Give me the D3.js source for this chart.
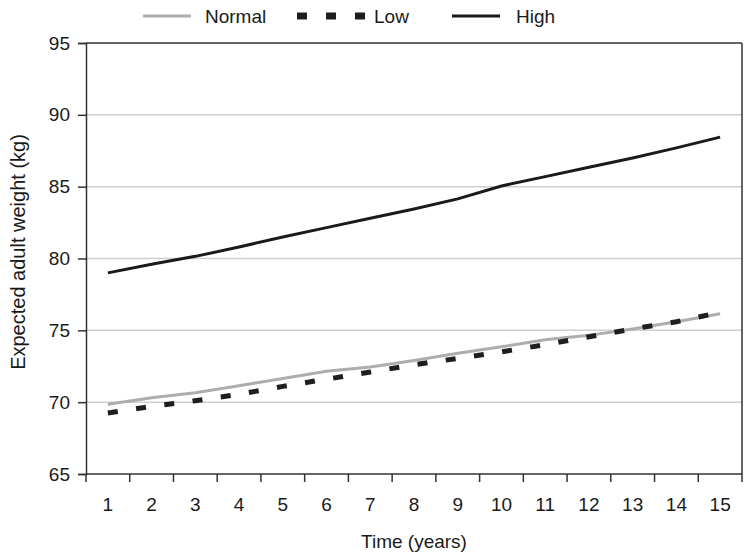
<!DOCTYPE html>
<html><head><meta charset="utf-8">
<script src="https://cdn.jsdelivr.net/npm/d3@7"></script>
<style>
body{margin:0;background:#fff;}
text{font-family:"Liberation Sans",Arial,sans-serif;fill:#1a1a1a;}
</style></head>
<body>
<svg id="chart" width="752" height="560"></svg>
<script>
const years = [1,2,3,4,5,6,7,8,9,10,11,12,13,14,15];
const normalValues = [69.85,70.3,70.65,71.15,71.65,72.15,72.45,72.9,73.4,73.85,74.35,74.65,75.1,75.6,76.15];
const lowValues = [69.25,69.7,70.1,70.55,71.1,71.6,72.1,72.6,73.05,73.5,74.0,74.55,75.1,75.6,76.25];
const highValues = [79.0,79.6,80.15,80.8,81.5,82.15,82.8,83.45,84.15,85.05,85.7,86.35,87.0,87.7,88.45];
const yTicks = [65,70,75,80,85,90,95];
const gridValues = [70,75,80,85,90];
const seriesNames = ["Normal","Low","High"];

const svg = d3.select("#chart");
const L = 86, R = 742, T = 43, B = 474;

const x = d3.scaleBand().domain(years).range([L, R]).padding(0);
const y = d3.scaleLinear().domain([65, 95]).range([B, T]);

// gridlines
svg.append("g").selectAll("line").data(gridValues).join("line")
  .attr("x1", L).attr("x2", R)
  .attr("y1", d => y(d)).attr("y2", d => y(d))
  .attr("stroke", "#cfcfcf").attr("stroke-width", 1.5);

// frame top & right
svg.append("line").attr("x1", L).attr("x2", R).attr("y1", T).attr("y2", T)
  .attr("stroke", "#333").attr("stroke-width", 1.5);
svg.append("line").attr("x1", R).attr("x2", R).attr("y1", T).attr("y2", B)
  .attr("stroke", "#333").attr("stroke-width", 1.5);

// y axis
const yAxis = svg.append("g").attr("transform", `translate(${L},0)`)
  .call(d3.axisLeft(y).tickValues(yTicks).tickSize(8).tickPadding(8));
yAxis.select(".domain").attr("stroke", "#333").attr("stroke-width", 1.5);
yAxis.selectAll(".tick line").attr("stroke", "#333").attr("stroke-width", 1.5);
yAxis.selectAll(".tick text").attr("font-size", 19).attr("font-family", "Liberation Sans, Arial, sans-serif").attr("fill", "#1a1a1a");

// x axis: ticks at band boundaries
const boundaries = d3.range(0, years.length + 1).map(i => L + i * x.step());
const xg = svg.append("g");
xg.append("line").attr("x1", L).attr("x2", R).attr("y1", B).attr("y2", B)
  .attr("stroke", "#333").attr("stroke-width", 1.5);
xg.selectAll("line.tk").data(boundaries).join("line").attr("class", "tk")
  .attr("x1", d => d).attr("x2", d => d).attr("y1", B).attr("y2", B + 8)
  .attr("stroke", "#333").attr("stroke-width", 1.5);
xg.selectAll("text").data(years).join("text")
  .attr("x", d => x(d) + x.bandwidth() / 2).attr("y", B + 37)
  .attr("text-anchor", "middle").attr("font-size", 19).text(d => d);

// axis titles
svg.append("text").attr("x", (L + R) / 2).attr("y", 548).attr("text-anchor", "middle")
  .attr("font-size", 19).text("Time (years)");
svg.append("text").attr("transform", `translate(25,252) rotate(-90)`)
  .attr("text-anchor", "middle").attr("font-size", 20).text("Expected adult weight (kg)");

const line = d3.line().x((d, i) => x(years[i]) + x.bandwidth() / 2).y(d => y(d));

svg.append("path").datum(normalValues).attr("d", line)
  .attr("fill", "none").attr("stroke", "#adadad").attr("stroke-width", 3);
svg.append("path").datum(lowValues).attr("d", line)
  .attr("fill", "none").attr("stroke", "#1e1e1e").attr("stroke-width", 5)
  .attr("stroke-dasharray", "10,18.5");
svg.append("path").datum(highValues).attr("d", line)
  .attr("fill", "none").attr("stroke", "#1a1a1a").attr("stroke-width", 3);

// legend
const legend = [
  {name: seriesNames[0], x1: 143, x2: 191, tx: 205, color: "#adadad", w: 3, dash: null},
  {name: seriesNames[1], x1: 297, x2: 365, tx: 374, color: "#1e1e1e", w: 7, dash: "10,19"},
  {name: seriesNames[2], x1: 452, x2: 500, tx: 516, color: "#1a1a1a", w: 3, dash: null}
];
const lg = svg.append("g");
legend.forEach(d => {
  lg.append("line").attr("x1", d.x1).attr("x2", d.x2).attr("y1", 16).attr("y2", 16)
    .attr("stroke", d.color).attr("stroke-width", d.w)
    .attr("stroke-dasharray", d.dash);
  lg.append("text").attr("x", d.tx).attr("y", 23).attr("font-size", 19).text(d.name);
});
</script>
</body></html>
